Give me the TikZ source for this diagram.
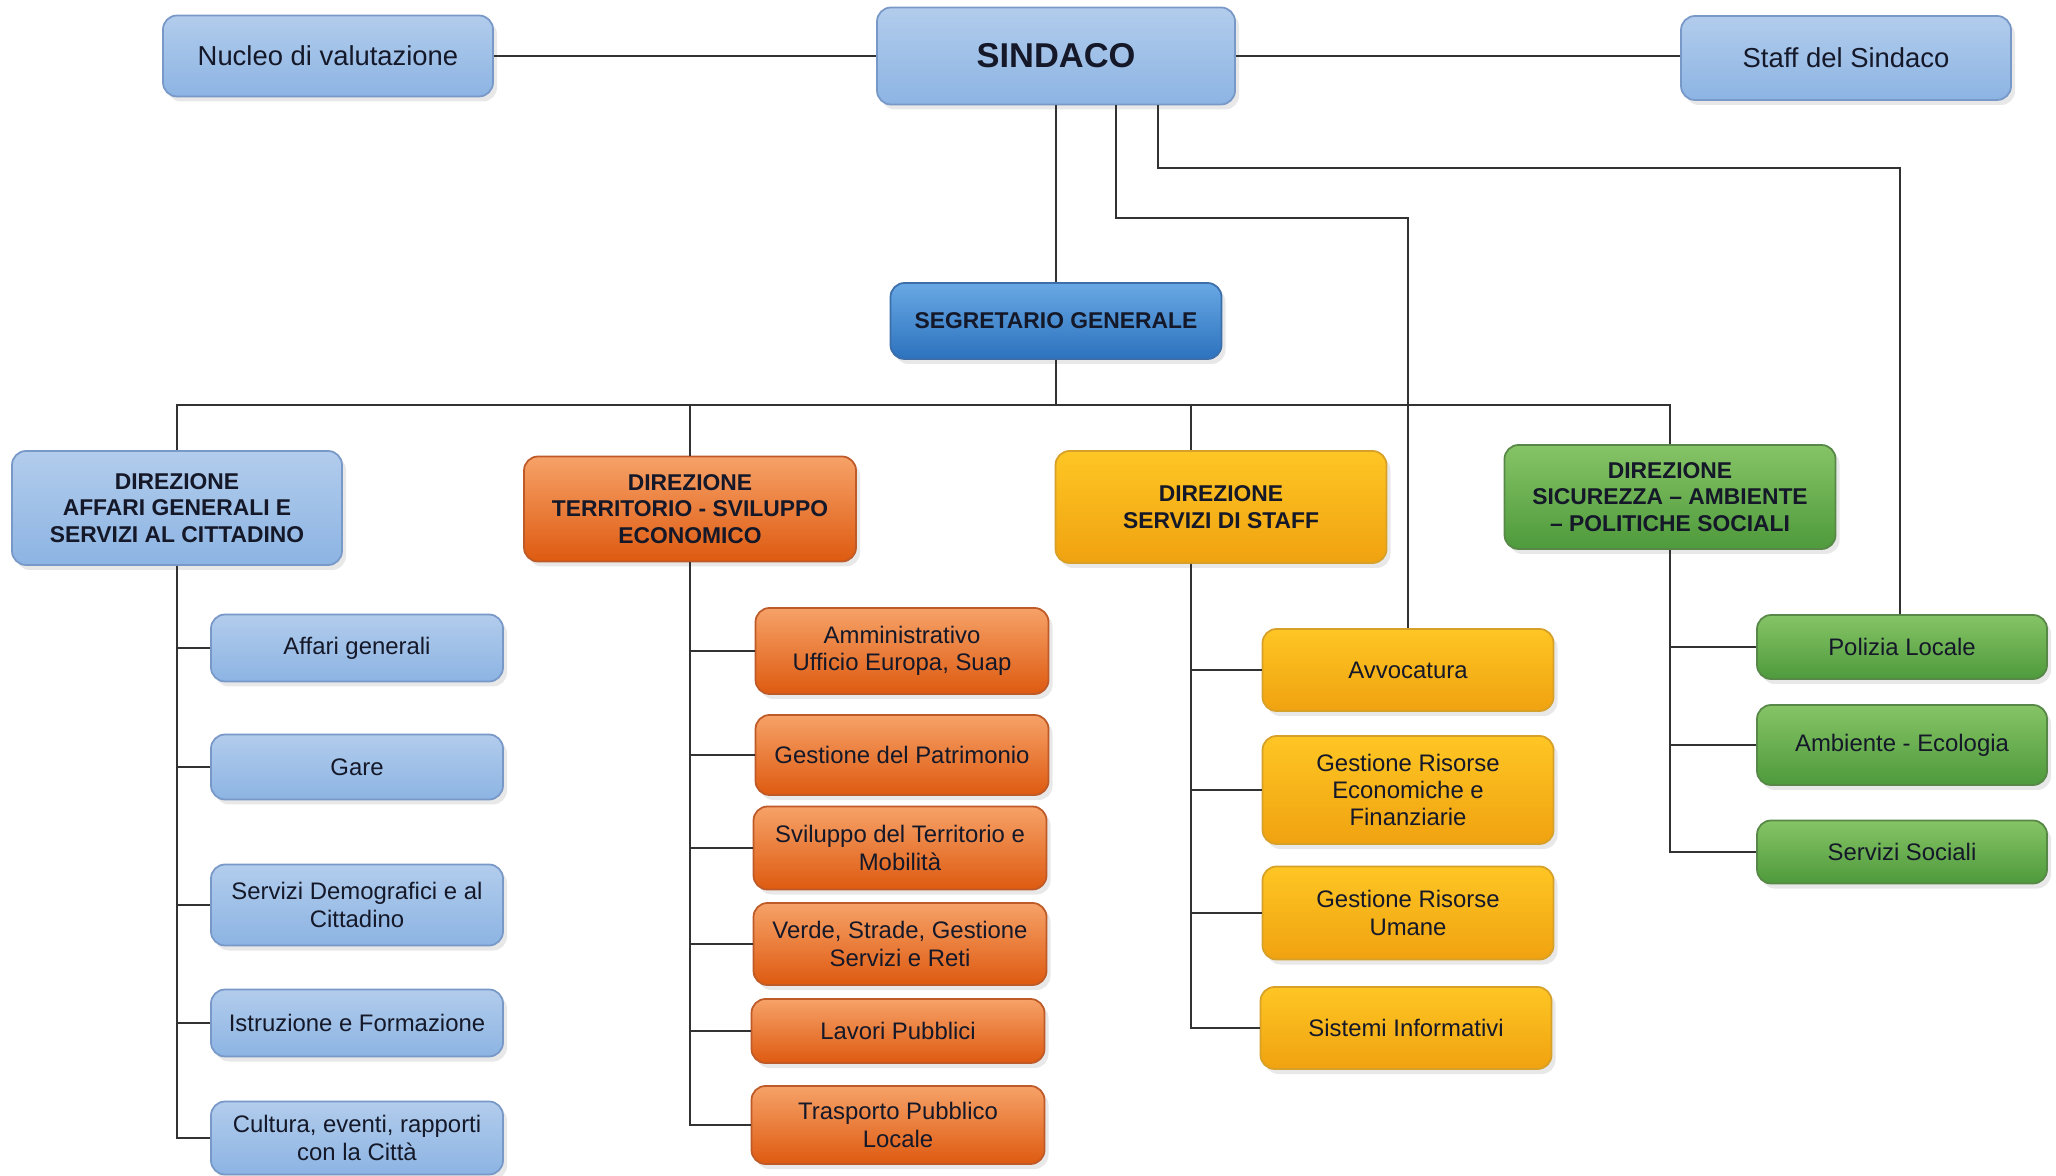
\documentclass[tikz,border=0pt]{standalone}
\usepackage{fontspec}
\setmainfont{Liberation Sans}
\usepackage{xcolor}
\usetikzlibrary{shadows}
\definecolor{ocText}{RGB}{20, 24, 40}
\definecolor{ocLine}{RGB}{50, 50, 50}
\definecolor{ocBlueTop}{RGB}{178, 204, 236}
\definecolor{ocBlueBot}{RGB}{140, 180, 227}
\definecolor{ocBlueLine}{RGB}{120, 152, 200}
\definecolor{ocDeepTop}{RGB}{104, 168, 228}
\definecolor{ocDeepBot}{RGB}{44, 114, 190}
\definecolor{ocDeepLine}{RGB}{60, 110, 170}
\definecolor{ocOrangeTop}{RGB}{246, 162, 104}
\definecolor{ocOrangeBot}{RGB}{222, 90, 16}
\definecolor{ocOrangeLine}{RGB}{190, 90, 40}
\definecolor{ocYellowTop}{RGB}{254, 198, 36}
\definecolor{ocYellowBot}{RGB}{240, 162, 16}
\definecolor{ocYellowLine}{RGB}{215, 160, 40}
\definecolor{ocGreenTop}{RGB}{134, 196, 102}
\definecolor{ocGreenBot}{RGB}{78, 154, 60}
\definecolor{ocGreenLine}{RGB}{88, 136, 72}
\tikzset{
    base/.style={
        font=\fontsize{6.8}{7.8}\selectfont,
        align=center,
        text=ocText
    },
    box/.style={
        base,
        rectangle,
        rounded corners=1.4mm,
        inner sep=1pt,
        line width=0.5pt,
        drop shadow={opacity=0.18, shadow xshift=0.4mm, shadow yshift=-0.5mm}
    },
    bluebox/.style={
        box,
        draw=ocBlueLine,
        top color=ocBlueTop,
        bottom color=ocBlueBot
    },
    deepbox/.style={
        box,
        draw=ocDeepLine,
        top color=ocDeepTop,
        bottom color=ocDeepBot
    },
    orangebox/.style={
        box,
        draw=ocOrangeLine,
        top color=ocOrangeTop,
        bottom color=ocOrangeBot
    },
    yellowbox/.style={
        box,
        draw=ocYellowLine,
        top color=ocYellowTop,
        bottom color=ocYellowBot
    },
    greenbox/.style={
        box,
        draw=ocGreenLine,
        top color=ocGreenTop,
        bottom color=ocGreenBot
    },
    head/.style={
        font=\bfseries\fontsize{6.5}{7.5}\selectfont
    },
    top/.style={
        font=\fontsize{7.8}{9}\selectfont
    },
    link/.style={
        line width=0.75pt,
        color=ocLine
    }
}

\begin{document}
\begin{tikzpicture}
  \useasboundingbox (0,0) rectangle (20.56,-11.76);

  % Vertice
  \node[bluebox, top, minimum width=3.30cm, minimum height=0.81cm] (nucleo) at (3.28,-0.56) {Nucleo di valutazione};
  \node[bluebox, font=\bfseries\fontsize{9.8}{11}\selectfont, minimum width=3.58cm, minimum height=0.97cm] (sindaco) at (10.56,-0.56) {SINDACO};
  \node[bluebox, top, minimum width=3.30cm, minimum height=0.84cm] (staff) at (18.46,-0.58) {Staff del Sindaco};
  \node[deepbox, head, minimum width=3.31cm, minimum height=0.76cm] (segretario) at (10.56,-3.21) {SEGRETARIO GENERALE};

  % Direzioni
  \node[bluebox, head, minimum width=3.30cm, minimum height=1.14cm] (dirAffari) at (1.77,-5.08) {DIREZIONE\\AFFARI GENERALI E\\SERVIZI AL CITTADINO};
  \node[orangebox, head, minimum width=3.32cm, minimum height=1.05cm] (dirTerritorio) at (6.90,-5.09) {DIREZIONE\\TERRITORIO - SVILUPPO\\ECONOMICO};
  \node[yellowbox, head, minimum width=3.31cm, minimum height=1.12cm] (dirStaff) at (12.21,-5.07) {DIREZIONE\\SERVIZI DI STAFF};
  \node[greenbox, head, minimum width=3.31cm, minimum height=1.04cm] (dirSicurezza) at (16.70,-4.97) {DIREZIONE\\SICUREZZA -- AMBIENTE\\-- POLITICHE SOCIALI};

  % Affari generali e servizi al cittadino
  \node[bluebox, minimum width=2.92cm, minimum height=0.67cm] (affari) at (3.57,-6.48) {Affari generali};
  \node[bluebox, minimum width=2.92cm, minimum height=0.65cm] (gare) at (3.57,-7.67) {Gare};
  \node[bluebox, minimum width=2.92cm, minimum height=0.81cm] (demografici) at (3.57,-9.05) {Servizi Demografici e al\\Cittadino};
  \node[bluebox, minimum width=2.92cm, minimum height=0.67cm] (istruzione) at (3.57,-10.23) {Istruzione e Formazione};
  \node[bluebox, minimum width=2.92cm, minimum height=0.73cm] (cultura) at (3.57,-11.38) {Cultura, eventi, rapporti\\con la Città};

  % Territorio - sviluppo economico
  \node[orangebox, minimum width=2.93cm, minimum height=0.86cm] (amministrativo) at (9.02,-6.51) {Amministrativo\\Ufficio Europa, Suap};
  \node[orangebox, minimum width=2.93cm, minimum height=0.80cm] (patrimonio) at (9.02,-7.55) {Gestione del Patrimonio};
  \node[orangebox, minimum width=2.93cm, minimum height=0.83cm] (sviluppo) at (9.00,-8.48) {Sviluppo del Territorio e\\Mobilità};
  \node[orangebox, minimum width=2.93cm, minimum height=0.82cm] (verde) at (9.00,-9.44) {Verde, Strade, Gestione\\Servizi e Reti};
  \node[orangebox, minimum width=2.93cm, minimum height=0.64cm] (lavori) at (8.98,-10.31) {Lavori Pubblici};
  \node[orangebox, minimum width=2.93cm, minimum height=0.78cm] (trasporto) at (8.98,-11.25) {Trasporto Pubblico\\Locale};

  % Servizi di staff
  \node[yellowbox, minimum width=2.91cm, minimum height=0.82cm] (avvocatura) at (14.08,-6.70) {Avvocatura};
  \node[yellowbox, minimum width=2.91cm, minimum height=1.08cm] (economiche) at (14.08,-7.90) {Gestione Risorse\\Economiche e\\Finanziarie};
  \node[yellowbox, minimum width=2.91cm, minimum height=0.93cm] (umane) at (14.08,-9.13) {Gestione Risorse\\Umane};
  \node[yellowbox, minimum width=2.91cm, minimum height=0.82cm] (sistemi) at (14.06,-10.28) {Sistemi Informativi};

  % Sicurezza - ambiente - politiche sociali
  \node[greenbox, minimum width=2.90cm, minimum height=0.64cm] (polizia) at (19.02,-6.47) {Polizia Locale};
  \node[greenbox, minimum width=2.90cm, minimum height=0.80cm] (ambiente) at (19.02,-7.45) {Ambiente - Ecologia};
  \node[greenbox, minimum width=2.90cm, minimum height=0.63cm] (sociali) at (19.02,-8.52) {Servizi Sociali};

  % Collegamenti
  \coordinate (bus) at (10.56,-4.05);
  \coordinate (toAvvocatura) at (11.16,-2.18);
  \coordinate (toPolizia) at (11.58,-1.68);
  \draw[link] (nucleo) -- (sindaco);
  \draw[link] (sindaco.east) -- (sindaco.east -| staff.west);
  \draw[link] (sindaco) -- (segretario);
  \draw[link] (sindaco.south -| toAvvocatura) -- (toAvvocatura) -| (avvocatura.north);
  \draw[link] (sindaco.south -| toPolizia) -- (toPolizia) -| ([xshift=-0.2mm]polizia.north);
  \draw[link] (segretario) -- (bus);
  \draw[link] (bus) -| (dirAffari.north);
  \draw[link] (bus) -| (dirTerritorio.north);
  \draw[link] (bus) -| ([xshift=-3mm]dirStaff.north);
  \draw[link] (bus) -| (dirSicurezza.north);

  \foreach \child in {affari, gare, demografici, istruzione, cultura}
    \draw[link] (dirAffari.south) |- (\child.west);
  \foreach \child in {amministrativo, patrimonio, sviluppo, verde, lavori, trasporto}
    \draw[link] (dirTerritorio.south) |- (\child.west);
  \foreach \child in {avvocatura, economiche, umane, sistemi}
    \draw[link] ([xshift=-3mm]dirStaff.south) |- (\child.west);
  \foreach \child in {polizia, ambiente, sociali}
    \draw[link] (dirSicurezza.south) |- (\child.west);
\end{tikzpicture}
\end{document}
